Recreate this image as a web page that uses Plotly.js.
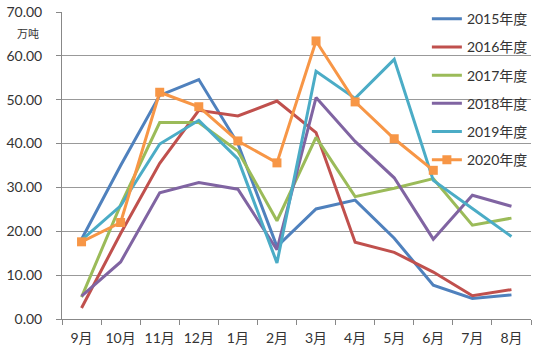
<!DOCTYPE html>
<html><head><meta charset="utf-8">
<script src="https://cdn.plot.ly/plotly-3.0.1.min.js"></script>
<style>html,body{margin:0;padding:0;background:#fff;}#chart{width:550px;height:352px;}</style>
</head><body><div id="chart"></div>
<script>
const months = ["9月","10月","11月","12月","1月","2月","3月","4月","5月","6月","7月","8月"];
const seriesNames = ["2015年度","2016年度","2017年度","2018年度","2019年度","2020年度"];
const y2015 = [18.2, 35, 51, 54.6, 40, 16.5, 25.1, 27.1, 18.4, 7.7, 4.7, 5.5];
const y2016 = [2.5, 19.5, 35.5, 47.6, 46.3, 49.7, 42.5, 17.5, 15.2, 10.7, 5.3, 6.7];
const y2017 = [5, 26, 44.8, 44.8, 38.3, 22.4, 41.4, 27.9, 29.8, 32, 21.4, 23];
const y2018 = [5.2, 13, 28.8, 31.1, 29.6, 15.8, 50.5, 40.5, 32.2, 18.2, 28.2, 25.7];
const y2019 = [18, 25.8, 39.9, 45.3, 36.5, 12.8, 56.5, 50.3, 59.2, 31.6, 25.2, 18.8];
const y2020 = [17.6, 22, 51.7, 48.4, 40.6, 35.6, 63.4, 49.5, 41.1, 33.9];
const colors = ["#4F81BD","#C0504D","#9BBB59","#8064A2","#4BACC6","#F79646"];
const allY = [y2015, y2016, y2017, y2018, y2019, y2020];

const traces = allY.map((ys, i) => ({
  type: "scatter",
  mode: i === 5 ? "lines+markers" : "lines",
  name: seriesNames[i],
  legendgroup: "g" + i,
  x: months.slice(0, ys.length),
  y: ys,
  line: {color: colors[i], width: 3},
  marker: {symbol: "square", size: 9, color: colors[i]}
}));

const layout = {
  width: 550, height: 352,
  margin: {l: 62, r: 19, t: 12, b: 33, autoexpand: false},
  paper_bgcolor: "#fff", plot_bgcolor: "#fff",
  font: {family: "Lato, 'Noto Sans CJK SC', sans-serif", size: 13, color: "#333"},
  showlegend: true,
  legend: {x: 0.778, y: 0.991, yref: "container", xanchor: "left", yanchor: "top", bgcolor: "rgba(0,0,0,0)",
    font: {size: 14, color: "#333", family: "Lato, 'Noto Sans CJK SC', sans-serif"},
    traceorder: "grouped", tracegroupgap: 7, itemwidth: 30},
  xaxis: {type: "category", categoryarray: months, range: [-0.5, 11.5],
    showline: true, linecolor: "#888", linewidth: 1,
    ticks: "outside", tickson: "boundaries", ticklen: 5, tickcolor: "#888",
    ticklabelstandoff: 6, tickangle: 0,
    showgrid: false, tickfont: {size: 14, color: "#333"}},
  yaxis: {range: [0, 70], dtick: 10, tickformat: ".2f",
    showline: true, linecolor: "#888", linewidth: 1,
    ticks: "outside", ticklen: 5, tickcolor: "#888",
    ticklabelstandoff: 11,
    showgrid: true, gridcolor: "#999", gridwidth: 1, zeroline: false,
    tickfont: {size: 14, color: "#333"}},
  annotations: [{text: "万吨", xref: "paper", yref: "paper", x: -0.072, y: 0.932,
    xanchor: "center", yanchor: "middle", showarrow: false,
    font: {size: 11, color: "#333", family: "'Noto Sans CJK SC', sans-serif"}}]
};
Plotly.newPlot("chart", traces, layout, {displayModeBar: false, staticPlot: true});
</script></body></html>
